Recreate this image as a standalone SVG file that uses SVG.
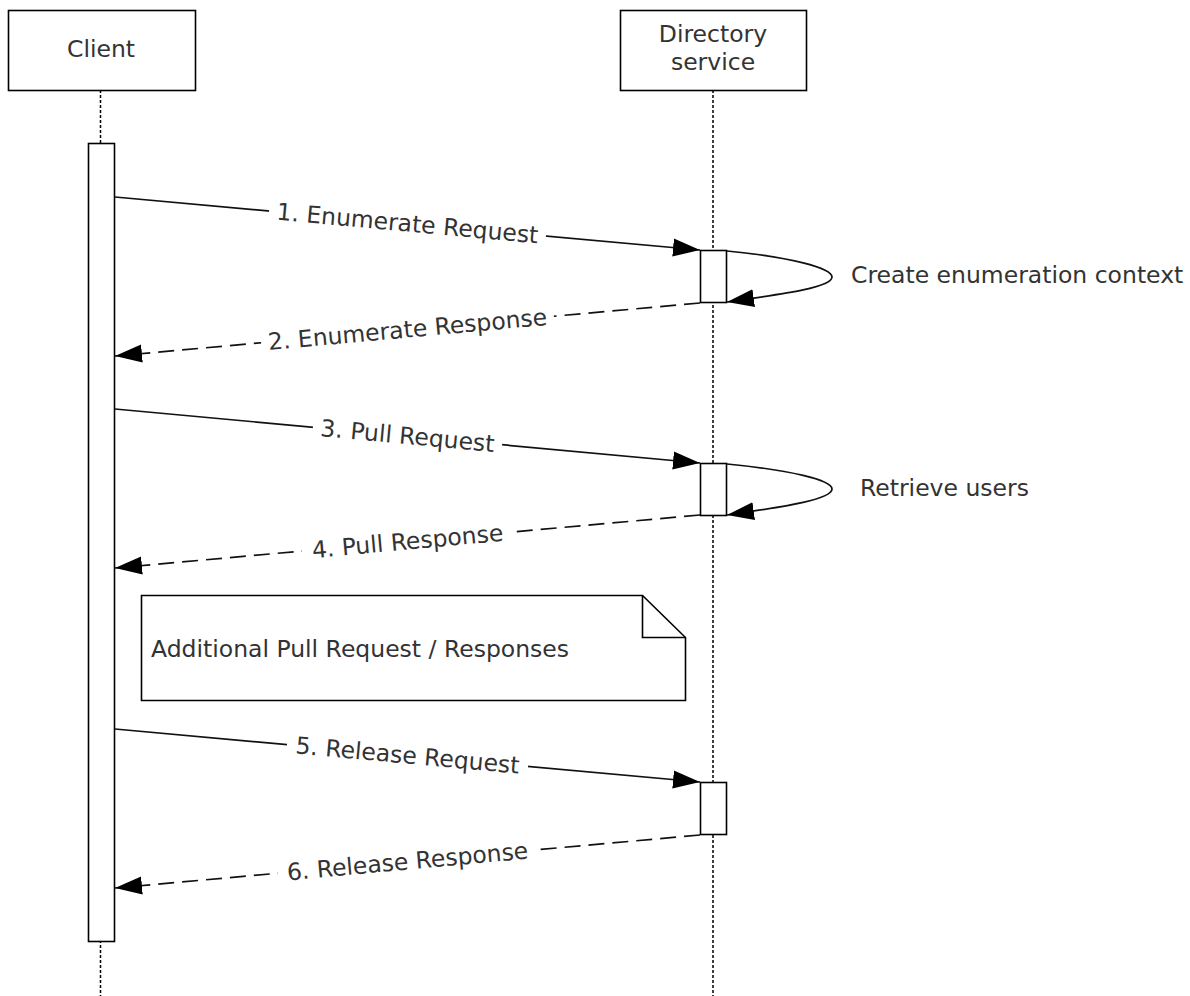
<svg xmlns="http://www.w3.org/2000/svg" width="1190" height="996" viewBox="0 0 1190 996">
<style>
  text { font-family: "DejaVu Sans", Verdana, sans-serif; font-size: 23.5px; fill: #333; }
  .box { fill: #fff; stroke: #000; stroke-width: 1.6; }
  .life { stroke: #000; stroke-width: 1.5; stroke-dasharray: 3 2; fill: none; }
  .msg { stroke: #111; stroke-width: 1.7; fill: none; marker-end: url(#arr); }
  .ret { stroke: #111; stroke-width: 1.7; fill: none; stroke-dasharray: 16 8; marker-end: url(#arr); }
  .bg { fill: #fff; }
  .lbl { text-anchor: middle; }
</style>
<defs>
  <marker id="arr" markerUnits="userSpaceOnUse" markerWidth="28" markerHeight="20" refX="27" refY="10" orient="auto">
    <path d="M0,1 L27,10 L0,19 z" fill="#000"/>
  </marker>
</defs>

<g id="lifelines">
  <line class="life" x1="100.5" y1="90" x2="100.5" y2="996"/>
  <line class="life" x1="713" y1="90" x2="713" y2="996"/>
</g>

<g id="client">
  <rect class="box" x="8.5" y="10.5" width="187" height="80"/>
  <text x="101" y="57" text-anchor="middle">Client</text>
</g>

<g id="directory-service">
  <rect class="box" x="620.5" y="10.5" width="186" height="80"/>
  <text x="713" y="42" text-anchor="middle">Directory</text>
  <text x="713" y="70" text-anchor="middle">service</text>
</g>

<g id="client-activation">
  <rect class="box" x="88.5" y="143.5" width="26" height="798"/>
</g>

<g id="ds-activation-1">
  <rect class="box" x="700.5" y="250.5" width="26" height="52"/>
</g>
<g id="ds-activation-2">
  <rect class="box" x="700.5" y="463.5" width="26" height="52"/>
</g>
<g id="ds-activation-3">
  <rect class="box" x="700.5" y="782.5" width="26" height="52"/>
</g>

<g id="connectors">
  <line class="msg" x1="115" y1="197" x2="700" y2="250"/>
  <path class="msg" d="M727,251 C790,257 832,268 832,277 C832,287 790,293 727,302"/>
  <line class="ret" x1="700" y1="303" x2="115" y2="356"/>
  <line class="msg" x1="115" y1="409" x2="700" y2="463"/>
  <path class="msg" d="M727,464 C790,470 832,480 832,489 C832,499 790,506 727,515"/>
  <line class="ret" x1="700" y1="515" x2="115" y2="568"/>
  <line class="msg" x1="115" y1="729" x2="700" y2="782"/>
  <line class="ret" x1="700" y1="835" x2="115" y2="888"/>

  <g transform="translate(407.5,223.5) rotate(5.18)">
    <rect class="bg" x="-139" y="-12" width="278" height="24"/>
    <text class="lbl" x="0" y="8">1. Enumerate Request</text>
  </g>
  <g transform="translate(407.5,329.5) rotate(-5.18)">
    <rect class="bg" x="-147" y="-12" width="294" height="24"/>
    <text class="lbl" x="0" y="8">2. Enumerate Response</text>
  </g>
  <g transform="translate(407.5,436) rotate(5.27)">
    <rect class="bg" x="-95" y="-12" width="190" height="24"/>
    <text class="lbl" x="0" y="8">3. Pull Request</text>
  </g>
  <g transform="translate(407.5,541.5) rotate(-5.18)">
    <rect class="bg" x="-106" y="-12" width="212" height="24"/>
    <text class="lbl" x="0" y="8">4. Pull Response</text>
  </g>
  <g transform="translate(407.5,755.5) rotate(5.18)">
    <rect class="bg" x="-121" y="-12" width="242" height="24"/>
    <text class="lbl" x="0" y="8">5. Release Request</text>
  </g>
  <g transform="translate(407.5,861.5) rotate(-5.18)">
    <rect class="bg" x="-130" y="-12" width="260" height="24"/>
    <text class="lbl" x="0" y="8">6. Release Response</text>
  </g>
</g>

<g id="label-create-context">
  <text x="851" y="283">Create enumeration context</text>
</g>
<g id="label-retrieve-users">
  <text x="860" y="496">Retrieve users</text>
</g>

<g id="note">
  <path class="box" d="M141.5,595.5 L642.5,595.5 L685.5,637.5 L685.5,700.5 L141.5,700.5 Z"/>
  <path d="M642.5,595.5 L642.5,637.5 L685.5,637.5" fill="none" stroke="#000" stroke-width="1.6"/>
  <text x="151" y="657">Additional Pull Request / Responses</text>
</g>
</svg>
